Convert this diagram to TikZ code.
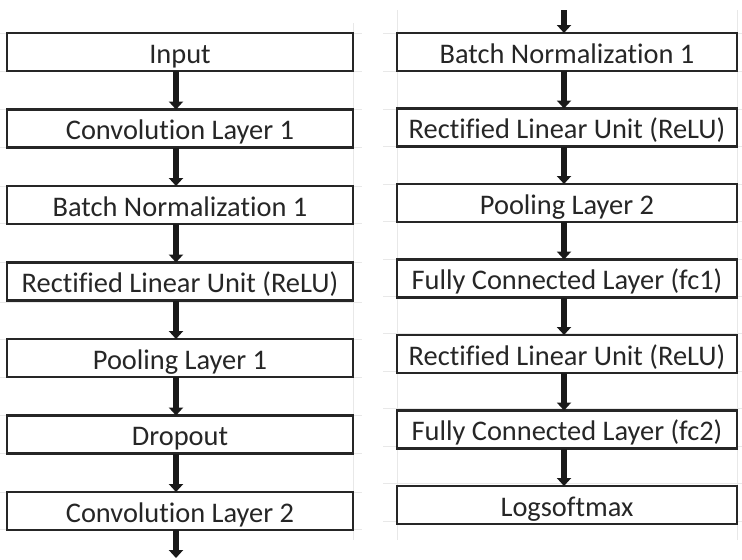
\documentclass[tikz,border=0pt]{standalone}
\usepackage{fontspec}
\setmainfont{Carlito}[Ligatures=NoCommon]
\usetikzlibrary{positioning,arrows.meta}

\begin{document}
\begin{tikzpicture}[x=0.5pt,y=-0.5pt]
\tikzstyle{every node}+=[inner sep=0pt, outer sep=0pt]
\tikzstyle{layer}=[draw=black!85, line width=1.2pt, fill=white, text=black!85, minimum height=19pt, text height=12pt, text depth=1pt, font=\fontsize{14.2}{17}\selectfont]
\tikzstyle{leftlayer}=[layer, minimum width=173pt]
\tikzstyle{rightlayer}=[layer, minimum width=170pt]
\tikzstyle{flow}=[black!90, line width=2.6pt, -{Triangle[width=7pt,length=4pt]}]
\tikzstyle{sheet}=[black!9, line width=0.5pt]
\useasboundingbox (0,0) rectangle (742,559);
% faint spreadsheet grid behind the boxes
\foreach \y in {33,71,109,147,186,223,262,302,339,377,415,453,492,529}
  \draw [sheet] (0,\y) -- (362,\y);
\foreach \y in {33,71,109,146,184,221,259,296,333,371,408,446,483,521}
  \draw [sheet] (383,\y) -- (742,\y);
\draw [sheet] (353,23) -- (353,540);
\draw [sheet] (397,10) -- (397,540);
\draw [sheet] (737,10) -- (737,540);
% left column
\node [leftlayer] (in) at (180,52) {Input};
\node [leftlayer, below=19.25pt of in] (conv1) {Convolution Layer 1};
\node [leftlayer, below=19.25pt of conv1] (bn1) {Batch Normalization 1};
\node [leftlayer, below=19.25pt of bn1] (relu1) {Rectified Linear Unit (ReLU)};
\node [leftlayer, below=19.25pt of relu1] (pool1) {Pooling Layer 1};
\node [leftlayer, below=19.25pt of pool1] (drop) {Dropout};
\node [leftlayer, below=19.25pt of drop] (conv2) {Convolution Layer 2};
\coordinate (outl) at (176,558);
% right column
\coordinate (inr) at (564,10);
\node [rightlayer] (bn2) at (567,52) {Batch Normalization 1};
\node [rightlayer, below=18.75pt of bn2] (relu2) {Rectified Linear Unit (ReLU)};
\node [rightlayer, below=18.75pt of relu2] (pool2) {Pooling Layer 2};
\node [rightlayer, below=18.75pt of pool2] (fc1) {Fully Connected Layer (fc1)};
\node [rightlayer, below=18.75pt of fc1] (relu3) {Rectified Linear Unit (ReLU)};
\node [rightlayer, below=18.75pt of relu3] (fc2) {Fully Connected Layer (fc2)};
\node [rightlayer, below=18.75pt of fc2] (logsm) {Logsoftmax};
% arrows
\foreach \a/\b in {in/conv1, conv1/bn1, bn1/relu1, relu1/pool1, pool1/drop, drop/conv2}
  \draw [flow] ([xshift=-2pt]\a.south) -- ([xshift=-2pt]\b.north);
\draw [flow] ([xshift=-2pt]conv2.south) -- (outl);
\draw [flow] (inr) -- ([xshift=-1.5pt]bn2.north);
\foreach \a/\b in {bn2/relu2, relu2/pool2, pool2/fc1, fc1/relu3, relu3/fc2, fc2/logsm}
  \draw [flow] ([xshift=-1.5pt]\a.south) -- ([xshift=-1.5pt]\b.north);
\end{tikzpicture}
\end{document}
